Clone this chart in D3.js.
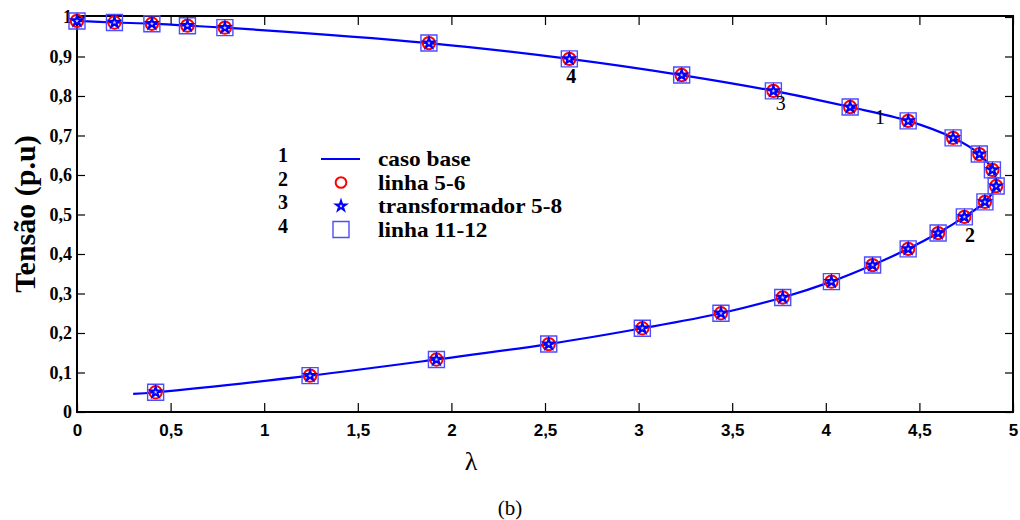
<!DOCTYPE html>
<html>
<head>
<meta charset="utf-8">
<script src="https://cdn.jsdelivr.net/npm/d3@7"></script>
<style>
  html, body { margin: 0; padding: 0; background: #fff; }
  svg { display: block; }
</style>
</head>
<body>
<svg id="chart" width="1020" height="520"></svg>
<script>
// PV (nose) curve: load parameter λ vs bus voltage (p.u.)
const lambdaBase = [0.30, 0.42, 1.245, 1.92, 2.52, 3.02, 3.44, 3.77, 4.03, 4.25, 4.44, 4.60, 4.74, 4.85, 4.91,
                    4.89, 4.82, 4.68, 4.44, 4.13, 3.72, 3.23, 2.63, 1.88, 0.79, 0.59, 0.40, 0.20, 0.0];
const tensaoBase = [0.046, 0.050, 0.092, 0.133, 0.172, 0.212, 0.250, 0.290, 0.330, 0.372, 0.413, 0.453, 0.494, 0.532, 0.572,
                    0.613, 0.653, 0.694, 0.737, 0.772, 0.813, 0.853, 0.894, 0.934, 0.973, 0.978, 0.983, 0.986, 0.990];

// Contingency cases (sampled points)
const lambdaCont = [0.0, 0.20, 0.40, 0.59, 0.79, 1.88, 2.63, 3.23, 3.72, 4.13, 4.44, 4.68, 4.82, 4.89, 4.91,
                    4.85, 4.74, 4.60, 4.44, 4.25, 4.03, 3.77, 3.44, 3.02, 2.52, 1.92, 1.245, 0.42];
const tensaoLinha56 = [0.990, 0.986, 0.983, 0.978, 0.973, 0.934, 0.894, 0.853, 0.813, 0.772, 0.737, 0.694, 0.653, 0.613, 0.572,
                       0.532, 0.494, 0.453, 0.413, 0.372, 0.330, 0.290, 0.250, 0.212, 0.172, 0.133, 0.092, 0.050];
const tensaoTrafo58 = [0.990, 0.986, 0.983, 0.978, 0.973, 0.934, 0.894, 0.853, 0.813, 0.772, 0.737, 0.694, 0.653, 0.613, 0.572,
                       0.532, 0.494, 0.453, 0.413, 0.372, 0.330, 0.290, 0.250, 0.212, 0.172, 0.133, 0.092, 0.050];
const tensaoLinha1112 = [0.990, 0.986, 0.983, 0.978, 0.973, 0.934, 0.894, 0.853, 0.813, 0.772, 0.737, 0.694, 0.653, 0.613, 0.572,
                         0.532, 0.494, 0.453, 0.413, 0.372, 0.330, 0.290, 0.250, 0.212, 0.172, 0.133, 0.092, 0.050];

const xTicks = [0, 0.5, 1, 1.5, 2, 2.5, 3, 3.5, 4, 4.5, 5];
const yTicks = [0, 0.1, 0.2, 0.3, 0.4, 0.5, 0.6, 0.7, 0.8, 0.9, 1];
const legendNames = ["caso base", "linha 5-6", "transformador 5-8", "linha 11-12"];
const legendIds = ["1", "2", "3", "4"];
// curve labels: id, λ, tensão
const curveLabels = [
  { id: "4", x: 2.64, y: 0.832, bold: true },
  { id: "3", x: 3.76, y: 0.765, bold: false },
  { id: "1", x: 4.29, y: 0.729, bold: false },
  { id: "2", x: 4.77, y: 0.430, bold: true }
];

const svg = d3.select("#chart");
const L = 77, R = 1013, T = 16, B = 412;
const x = d3.scaleLinear().domain([0, 5]).range([L, R]);
const y = d3.scaleLinear().domain([0, 1.0025]).range([B, T]);

const fmt = d => d3.format(".1~f")(d).replace(".", ",");
const serif = "'Liberation Serif', 'Times New Roman', serif";

// bottom axis (ticks pointing inward)
const gx = svg.append("g").attr("transform", `translate(0,${B})`)
  .call(d3.axisBottom(x).tickValues(xTicks).tickSizeInner(-9).tickSizeOuter(0).tickPadding(12).tickFormat(fmt));
gx.selectAll("text").attr("font-family", "'Liberation Sans', Arial, sans-serif")
  .attr("font-weight", "bold").attr("font-size", 17).attr("fill", "#000");
gx.select(".domain").remove();

// top axis ticks
const gxt = svg.append("g").attr("transform", `translate(0,${T})`)
  .call(d3.axisTop(x).tickValues(xTicks).tickSizeInner(-9).tickSizeOuter(0).tickFormat(""));
gxt.select(".domain").remove();

// left axis
const gy = svg.append("g").attr("transform", `translate(${L},0)`)
  .call(d3.axisLeft(y).tickValues(yTicks).tickSizeInner(-8).tickSizeOuter(0).tickPadding(5).tickFormat(fmt));
gy.selectAll("text").attr("font-family", serif)
  .attr("font-weight", "bold").attr("font-size", 18).attr("fill", "#000");
gy.select(".domain").remove();

// right axis ticks
const gyr = svg.append("g").attr("transform", `translate(${R},0)`)
  .call(d3.axisRight(y).tickValues(yTicks).tickSizeInner(-8).tickSizeOuter(0).tickFormat(""));
gyr.select(".domain").remove();

svg.selectAll(".tick line").attr("stroke", "#000").attr("stroke-width", 1.2);

// frame
svg.append("rect").attr("x", L).attr("y", T).attr("width", R - L).attr("height", B - T)
  .attr("fill", "none").attr("stroke", "#000").attr("stroke-width", 2);

// base case curve
const line = d3.line().x(d => x(d[0])).y(d => y(d[1])).curve(d3.curveCatmullRom.alpha(0.5));
svg.append("path").datum(d3.zip(lambdaBase, tensaoBase))
  .attr("d", line).attr("fill", "none").attr("stroke", "#0000ff").attr("stroke-width", 2.2);

// markers
const circleSym = d3.symbol().type(d3.symbolCircle).size(120);
const starSym = d3.symbol().type(d3.symbolStar).size(32);
const squareSym = d3.symbol().type(d3.symbolSquare).size(256);

function drawMarkers(xs, ys, sym, stroke, sw, fill) {
  svg.append("g").selectAll("path").data(d3.zip(xs, ys)).join("path")
    .attr("transform", d => `translate(${x(d[0])},${y(d[1])})`)
    .attr("d", sym).attr("fill", fill).attr("stroke", stroke).attr("stroke-width", sw);
}
drawMarkers(lambdaCont, tensaoLinha56, circleSym, "#ff0000", 2, "none");
drawMarkers(lambdaCont, tensaoLinha1112, squareSym, "#4d4dff", 1.4, "none");
drawMarkers(lambdaCont, tensaoTrafo58, starSym, "#0000ff", 2, "#ccccff");

// curve labels
svg.append("g").selectAll("text").data(curveLabels).join("text")
  .attr("x", d => x(d.x)).attr("y", d => y(d.y))
  .attr("text-anchor", "middle")
  .attr("font-family", serif)
  .attr("font-weight", d => d.bold ? "bold" : "normal")
  .attr("font-size", 20).attr("fill", "#000")
  .text(d => d.id);

// legend
const lg = svg.append("g");
const rowY = [159, 182.5, 206, 229.5];
legendIds.forEach((id, i) => {
  lg.append("text").attr("x", 283).attr("y", rowY[i] + 3).attr("text-anchor", "middle")
    .attr("font-family", serif).attr("font-weight", "bold")
    .attr("font-size", 20).attr("fill", "#000").text(id);
  const t = lg.append("text").attr("x", 378).attr("y", rowY[i] + 7)
    .attr("font-family", serif).attr("font-weight", "bold")
    .attr("font-size", 21).attr("fill", "#000").text(legendNames[i]);
  // widen the glyphs slightly so the tall bold face reads like a larger size
  const w = t.node().getComputedTextLength();
  t.attr("textLength", w * 1.11).attr("lengthAdjust", "spacingAndGlyphs");
});
lg.append("line").attr("x1", 321).attr("x2", 360).attr("y1", rowY[0]).attr("y2", rowY[0])
  .attr("stroke", "#0000ff").attr("stroke-width", 2.2);
lg.append("path").attr("transform", `translate(341,${rowY[1]})`).attr("d", d3.symbol().type(d3.symbolCircle).size(90))
  .attr("fill", "none").attr("stroke", "#ff0000").attr("stroke-width", 2);
lg.append("path").attr("transform", `translate(341,${rowY[2]})`).attr("d", d3.symbol().type(d3.symbolStar).size(30))
  .attr("fill", "none").attr("stroke", "#0000ff").attr("stroke-width", 2);
lg.append("path").attr("transform", `translate(341,${rowY[3]})`).attr("d", d3.symbol().type(d3.symbolSquare).size(256))
  .attr("fill", "none").attr("stroke", "#4d4dff").attr("stroke-width", 1.4);

// axis titles
svg.append("text").attr("transform", `translate(35,${(T + B) / 2}) rotate(-90)`)
  .attr("text-anchor", "middle")
  .attr("font-family", serif).attr("font-weight", "bold")
  .attr("font-size", 30).attr("fill", "#000").text("Tensão (p.u)");
svg.append("text").attr("x", 471).attr("y", 470).attr("text-anchor", "middle")
  .attr("font-family", serif)
  .attr("font-size", 26).attr("fill", "#000").text("λ");
svg.append("text").attr("x", 510).attr("y", 515).attr("text-anchor", "middle")
  .attr("font-family", serif)
  .attr("font-size", 21).attr("fill", "#000").text("(b)");
</script>
</body>
</html>
